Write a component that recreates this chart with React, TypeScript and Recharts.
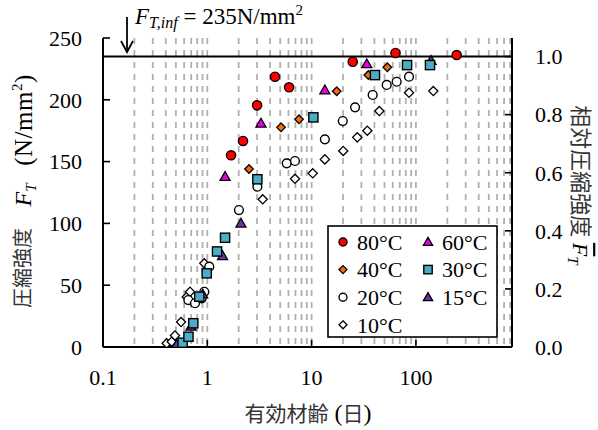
import React from 'react';
import { ScatterChart, Scatter, XAxis, YAxis, CartesianGrid, ReferenceLine } from 'recharts';

const SERIF = '"Liberation Serif", "Times New Roman", serif';
const CJK = '"Noto Sans CJK JP", "Noto Sans CJK SC", sans-serif';

// Effective age (days) and compressive strength F_T (N/mm²) for each curing temperature
const age80 = [1.69, 2.2, 3.0, 4.46, 6.08, 24.8, 63.7, 246];
const fc80 = [155.1, 166.7, 195.5, 218.7, 210.1, 230.8, 237.9, 236.2];

const age60 = [1.48, 3.27, 13.4, 33.8];
const fc60 = [137.8, 181.0, 207.9, 229.0];

const age40 = [2.51, 5.09, 7.57, 17.4, 35.0, 53.2];
const fc40 = [144.0, 177.7, 184.2, 206.9, 220.0, 226.3];

const age30 = [0.58, 0.66, 0.734, 0.838, 0.987, 1.24, 1.48, 3.02, 10.4, 40.5, 82.2, 136.5];
const fc30 = [3.5, 8.3, 19.2, 40.7, 59.6, 77.3, 88.4, 135.7, 185.8, 220.0, 228.1, 228.1];

const age20 = [0.658, 0.762, 0.884, 0.936, 1.045, 2.01, 3.02, 5.77, 6.93, 13.4, 19.9, 26.1, 38.5, 52.5, 65.4, 85.9];
const fc20 = [38.0, 35.4, 39.4, 44.7, 65.0, 110.8, 129.7, 148.6, 150.5, 168.0, 182.8, 193.9, 203.9, 212.0, 214.6, 218.7];

const age15 = [0.509, 0.698, 0.903, 1.40, 2.10, 139.6];
const fc15 = [2.0, 16.7, 42.7, 73.8, 100.1, 231.8];

const age10 = [0.408, 0.456, 0.49, 0.56, 0.635, 0.683, 0.936, 3.40, 6.93, 10.25, 13.4, 20.1, 27.4, 34.2, 44.6, 85.9, 146.9];
const fc10 = [3.0, 4.3, 9.3, 20.2, 40.5, 44.7, 67.7, 119.5, 136.1, 140.5, 151.8, 158.6, 169.6, 175.0, 190.9, 205.7, 207.1];

// Asymptotic strength used to normalise the right-hand axis
const FT_INF = 235;

// Axis ticks
const xTicks = [0.1, 1, 10, 100];
const xGridTicks = [
  0.2, 0.3, 0.4, 0.5, 0.6, 0.7, 0.8, 0.9, 1,
  2, 3, 4, 5, 6, 7, 8, 9, 10,
  20, 30, 40, 50, 60, 70, 80, 90, 100,
  200, 300, 400, 500, 600, 700, 800,
];
const yTicks = [0, 50, 100, 150, 200, 250];
const yRelTicks = [0, 0.2, 0.4, 0.6, 0.8, 1.0];
const X_DOMAIN: [number, number] = [0.1, 834];

const toPoints = (ages: number[], fc: number[]) => ages.map((a, i) => ({ age: a, fc: fc[i] }));

// Marker shapes
type ShapeProps = { cx?: number; cy?: number };
const circle = (fill: string, r = 4.6) => (p: ShapeProps) => (
  <circle cx={p.cx} cy={p.cy} r={r} fill={fill} stroke="#000" strokeWidth={1.4} />
);
const square = (fill: string, h = 4.6) => (p: ShapeProps) => (
  <rect x={(p.cx ?? 0) - h} y={(p.cy ?? 0) - h} width={h * 2} height={h * 2} fill={fill} stroke="#000" strokeWidth={1.4} />
);
const diamond = (fill: string, h = 4.6) => (p: ShapeProps) => {
  const cx = p.cx ?? 0;
  const cy = p.cy ?? 0;
  return (
    <polygon
      points={`${cx},${cy - h} ${cx + h},${cy} ${cx},${cy + h} ${cx - h},${cy}`}
      fill={fill}
      stroke="#000"
      strokeWidth={1.3}
    />
  );
};
const triangle = (fill: string, h = 5) => (p: ShapeProps) => {
  const cx = p.cx ?? 0;
  const cy = p.cy ?? 0;
  return (
    <polygon
      points={`${cx},${cy - h} ${cx + h},${cy + h * 0.75} ${cx - h},${cy + h * 0.75}`}
      fill={fill}
      stroke="#000"
      strokeWidth={1.3}
    />
  );
};

const RED = '#ff0000';
const MAGENTA = '#e600e6';
const ORANGE = '#f26a10';
const AQUA = '#4bacc6';
const PURPLE = '#7030a0';
const WHITE = '#ffffff';

const series = [
  { key: '10', name: '10°C', data: toPoints(age10, fc10), shape: diamond(WHITE) },
  { key: '20', name: '20°C', data: toPoints(age20, fc20), shape: circle(WHITE, 4.4) },
  { key: '40', name: '40°C', data: toPoints(age40, fc40), shape: diamond(ORANGE, 4.3) },
  { key: '15', name: '15°C', data: toPoints(age15, fc15), shape: triangle(PURPLE) },
  { key: '30', name: '30°C', data: toPoints(age30, fc30), shape: square(AQUA) },
  { key: '60', name: '60°C', data: toPoints(age60, fc60), shape: triangle(MAGENTA) },
  { key: '80', name: '80°C', data: toPoints(age80, fc80), shape: circle(RED) },
];

const legendItems = [
  { name: '80°C', shape: circle(RED, 4), col: 0, row: 0 },
  { name: '60°C', shape: triangle(MAGENTA, 4.6), col: 1, row: 0 },
  { name: '40°C', shape: diamond(ORANGE, 4), col: 0, row: 1 },
  { name: '30°C', shape: square(AQUA, 4.2), col: 1, row: 1 },
  { name: '20°C', shape: circle(WHITE, 4), col: 0, row: 2 },
  { name: '15°C', shape: triangle(PURPLE, 4.6), col: 1, row: 2 },
  { name: '10°C', shape: diamond(WHITE, 4), col: 0, row: 3 },
];

const TICK_FONT = 22;
const TICK_LEN = 7;

const XTick = (props: any) => {
  const { x, y, payload } = props;
  const axisY = y - 22;
  return (
    <g>
      <line x1={x} x2={x} y1={axisY} y2={axisY - TICK_LEN} stroke="#000" strokeWidth={1.6} />
      <text x={x} y={y} dy="0.71em" textAnchor="middle" fontFamily={SERIF} fontSize={TICK_FONT} fill="#000">
        {String(payload.value)}
      </text>
    </g>
  );
};

const YTickLeft = (props: any) => {
  const { x, y, payload } = props;
  const axisX = x + 21;
  return (
    <g>
      <line x1={axisX} x2={axisX + TICK_LEN} y1={y} y2={y} stroke="#000" strokeWidth={1.6} />
      <text x={x} y={y} dy="0.355em" textAnchor="end" fontFamily={SERIF} fontSize={TICK_FONT} fill="#000">
        {String(payload.value)}
      </text>
    </g>
  );
};

const YTickRight = (props: any) => {
  const { x, y, payload } = props;
  const axisX = x - 23;
  return (
    <g>
      <line x1={axisX} x2={axisX - TICK_LEN} y1={y} y2={y} stroke="#000" strokeWidth={1.6} />
      <text x={x} y={y} dy="0.355em" textAnchor="start" fontFamily={SERIF} fontSize={TICK_FONT} fill="#000">
        {Number(payload.value).toFixed(1)}
      </text>
    </g>
  );
};

// Minor log grid positions come from the age axis scale
const gridX = (args: any) => {
  const scale = args && args.xAxis && args.xAxis.scale;
  if (!scale) return [];
  if (typeof scale === 'function') return xGridTicks.map((v) => scale(v));
  if (typeof scale.map === 'function') return xGridTicks.map((v) => scale.map(v));
  return [];
};

export default function App() {
  return (
    <div style={{ position: 'absolute', left: 0, top: 0, width: 598, height: 430, background: '#fff' }}>
      <ScatterChart width={598} height={430} margin={{ top: 38, right: 0, bottom: 0, left: 0 }}>
        <XAxis
          xAxisId="main"
          dataKey="age"
          type="number"
          scale="log"
          domain={X_DOMAIN}
          allowDataOverflow
          ticks={xTicks}
          interval={0}
          tick={<XTick />}
          tickLine={false}
          tickSize={0}
          tickMargin={22}
          height={83}
          axisLine={{ stroke: '#000', strokeWidth: 2 }}
        />
        <XAxis
          xAxisId="top"
          orientation="top"
          type="number"
          scale="log"
          domain={X_DOMAIN}
          allowDataOverflow
          ticks={xTicks}
          tick={false}
          tickLine={false}
          height={0}
          axisLine={{ stroke: '#000', strokeWidth: 2 }}
        />
        <YAxis
          yAxisId="left"
          dataKey="fc"
          type="number"
          domain={[0, 250]}
          allowDataOverflow
          ticks={yTicks}
          interval={0}
          tick={<YTickLeft />}
          tickLine={false}
          tickSize={0}
          tickMargin={21}
          width={103}
          axisLine={{ stroke: '#000', strokeWidth: 2 }}
        />
        <YAxis
          yAxisId="right"
          orientation="right"
          type="number"
          domain={[0, 250 / FT_INF]}
          allowDataOverflow
          ticks={yRelTicks}
          interval={0}
          tick={<YTickRight />}
          tickLine={false}
          tickSize={0}
          tickMargin={23}
          width={86}
          axisLine={{ stroke: '#000', strokeWidth: 2 }}
        />
        <CartesianGrid
          xAxisId="main"
          yAxisId="left"
          horizontal={false}
          vertical
          verticalValues={xGridTicks}
          verticalCoordinatesGenerator={gridX}
          stroke="#b0b0b0"
          strokeWidth={1.8}
          strokeDasharray="6 6"
        />
        {series.map((s) => (
          <Scatter
            key={s.key}
            name={s.name}
            data={s.data}
            xAxisId="main"
            yAxisId="left"
            shape={s.shape}
            isAnimationActive={false}
          />
        ))}
        <ReferenceLine xAxisId="main" yAxisId="left" y={FT_INF} stroke="#000" strokeWidth={2} />
      </ScatterChart>

      <svg
        width={598}
        height={430}
        style={{ position: 'absolute', left: 0, top: 0, pointerEvents: 'none' }}
      >
        {/* asymptote annotation */}
        <line x1={127} y1={17} x2={127} y2={52} stroke="#000" strokeWidth={1.8} />
        <polyline points="121,41 127,52 133,41" fill="none" stroke="#000" strokeWidth={1.8} />
        <text x={135} y={24} fontFamily={SERIF} fontSize={23} fill="#000">
          <tspan fontStyle="italic">F</tspan>
          <tspan fontStyle="italic" fontSize={16} dy={4}>T,inf</tspan>
          <tspan dy={-4}> = 235N/mm</tspan>
          <tspan fontSize={15} dy={-9}>2</tspan>
        </text>

        {/* left axis title */}
        <text
          transform="translate(23,268) rotate(-90)"
          textAnchor="middle"
          dy="0.35em"
          fontFamily={CJK}
          fontSize={20}
          fill="#333"
        >
          圧縮強度
        </text>
        <text
          transform="translate(23,195) rotate(-90)"
          textAnchor="middle"
          dy="0.35em"
          fontFamily={SERIF}
          fontSize={24}
          fill="#000"
        >
          <tspan fontStyle="italic">F</tspan>
          <tspan fontStyle="italic" fontSize={15} dy={5}>T</tspan>
        </text>
        <text
          transform="translate(23,120) rotate(-90)"
          textAnchor="middle"
          dy="0.35em"
          fontFamily={SERIF}
          fontSize={25}
          letterSpacing={0.5}
          fill="#000"
        >
          <tspan>(N/mm</tspan>
          <tspan fontSize={15} dy={-10}>2</tspan>
          <tspan dy={10}>)</tspan>
        </text>

        {/* right axis title */}
        <text
          transform="translate(581,185) rotate(90)"
          textAnchor="middle"
          dy="0.35em"
          fontFamily={SERIF}
          fontSize={22}
          fill="#000"
        >
          <tspan fontFamily={CJK} fontSize={22} fill="#333">相対圧縮強度</tspan>
          <tspan>{' '}</tspan>
          <tspan fontStyle="italic" style={{ textDecoration: 'overline' }}>F</tspan>
          <tspan fontStyle="italic" fontSize={15} dy={5}>T</tspan>
        </text>

        {/* x axis title */}
        <text x={308} y={413} dy="0.35em" textAnchor="middle" fontFamily={SERIF} fontSize={24} fill="#000">
          <tspan fontFamily={CJK} fontSize={21} fill="#333">有効材齢</tspan>
          <tspan> (</tspan>
          <tspan fontFamily={CJK} fontSize={21} fill="#333">日</tspan>
          <tspan>)</tspan>
        </text>

        {/* legend */}
        <rect x={328} y={226} width={169} height={111} fill="#fff" stroke="#000" strokeWidth={1.6} />
        {legendItems.map((it) => {
          const mx = it.col === 0 ? 343 : 428;
          const ty = 242 + it.row * 27.6;
          return (
            <g key={it.name}>
              {it.shape({ cx: mx, cy: ty })}
              <text x={mx + 14} y={ty} dy="0.35em" fontFamily={SERIF} fontSize={22} fill="#000">
                {it.name}
              </text>
            </g>
          );
        })}
      </svg>
    </div>
  );
}
